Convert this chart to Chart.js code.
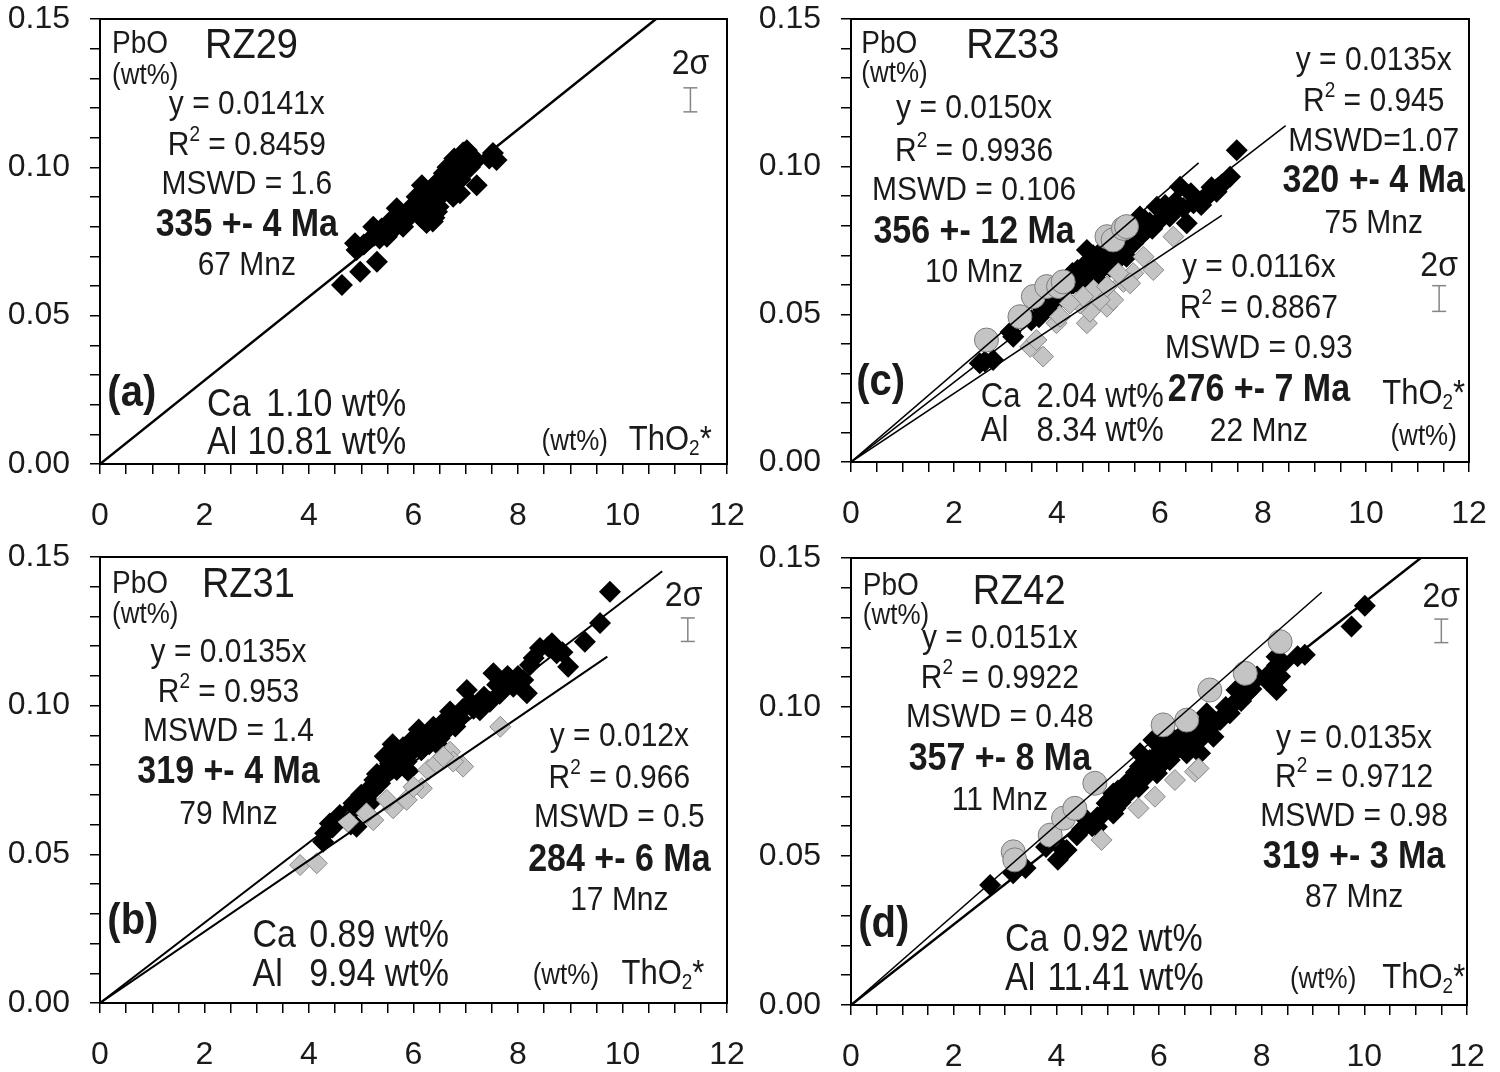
<!DOCTYPE html>
<html>
<head>
<meta charset="utf-8">
<script src="https://cdn.jsdelivr.net/npm/chart.js@4.4.1/dist/chart.umd.min.js"></script>
<style>
  html, body { margin: 0; padding: 0; background: #fff; }
  #wrap { position: relative; width: 1500px; height: 1072px; }
  canvas { position: absolute; }
</style>
</head>
<body>
<div id="wrap">
  <canvas id="panelA" width="750" height="536" style="left:0;top:0"></canvas>
  <canvas id="panelC" width="750" height="536" style="left:750px;top:0"></canvas>
  <canvas id="panelB" width="750" height="536" style="left:0;top:536px"></canvas>
  <canvas id="panelD" width="750" height="536" style="left:750px;top:536px"></canvas>
</div>
<script>
//.. ThO2* (x, wt%) and PbO (y, wt%)

//.. (a) RZ29
const rz29Mnz = [[4.63,0.0603],[4.98,0.0648],[5.30,0.0682],[4.88,0.0744],[4.91,0.0721],[5.23,0.0800],[5.39,0.0794],
  [5.49,0.0766],[5.68,0.0862],[5.80,0.0800],[5.55,0.0817],[5.90,0.0830],[6.12,0.0846],[6.16,0.0940],[6.25,0.0812],
  [6.37,0.0817],[6.44,0.0901],[6.32,0.0924],[6.51,0.0957],[6.64,0.0924],[6.73,0.0980],[6.89,0.1002],[7.02,0.1058],
  [7.04,0.1042],[7.14,0.1014],[7.21,0.0940],[6.89,0.0913],[7.52,0.1048],[7.59,0.1025],[6.76,0.0901],[6.48,0.0867],
  [6.06,0.0901],[6.00,0.0873],[5.35,0.0760],[5.60,0.0790],[5.75,0.0830],[6.20,0.0880],[6.30,0.0860],[6.40,0.0940],
  [6.55,0.0920],[6.60,0.0960],[6.70,0.0940],[6.80,0.0970],[6.85,0.1010],[6.95,0.0990],[7.00,0.1020],[6.95,0.1050],
  [7.08,0.1000],[6.65,0.1000],[6.50,0.0900],[6.25,0.0900],[6.35,0.0880],[6.45,0.0850],[6.15,0.0830],[6.10,0.0880],
  [5.95,0.0860],[5.65,0.0800],[5.45,0.0780],[5.25,0.0770],[6.58,0.0980],[6.78,0.1030],[7.10,0.1040],[6.90,0.0960],
  [6.20,0.0920],[6.40,0.0830],[5.05,0.0740],[7.45,0.1030]];
const rz29Fit = [[0, 0], [10.64, 0.15]];
const rz29Sigma = [[11.30, 0.1187], [11.30, 0.1268]];

//.. (b) RZ31
const rz31Mnz = [[9.76,0.1383],[9.57,0.1278],[9.28,0.1215],[8.96,0.1131],[8.58,0.1198],[8.42,0.1194],[8.74,0.1176],
  [8.23,0.1137],[8.10,0.1086],[7.53,0.1109],[7.72,0.1080],[7.91,0.1064],[8.17,0.1042],[7.02,0.1053],[7.46,0.1013],
  [7.27,0.0985],[6.70,0.0980],[6.89,0.0957],[6.38,0.0929],[6.25,0.0896],[6.06,0.0885],[5.74,0.0840],[5.55,0.0806],
  [5.49,0.0772],[5.36,0.0739],[5.10,0.0705],[4.85,0.0672],[4.75,0.0643],[4.40,0.0604],[4.31,0.0571],[4.27,0.0542],
  [5.87,0.0812],[6.44,0.0873],[6.57,0.0907],[6.00,0.0851],[5.68,0.0784],[5.23,0.0716],[4.98,0.0683],[5.17,0.0673],
  [4.91,0.0593],[4.59,0.0632],[7.80,0.1100],[7.65,0.1040],[8.00,0.1100],[8.30,0.1160],[8.65,0.1210],[8.85,0.1180],
  [7.35,0.1030],[7.15,0.0990],[6.95,0.0990],[6.80,0.0930],[6.60,0.0950],[6.50,0.0890],[6.30,0.0870],[6.15,0.0850],
  [6.10,0.0920],[5.95,0.0880],[5.80,0.0860],[5.65,0.0820],[5.60,0.0870],[5.50,0.0790],[5.45,0.0830],[5.30,0.0770],
  [5.25,0.0750],[5.15,0.0720],[5.00,0.0700],[4.90,0.0660],[4.70,0.0620],[4.45,0.0590],[5.70,0.0800],[5.85,0.0830],
  [6.20,0.0860],[6.35,0.0900],[6.75,0.0960],[7.10,0.1010],[7.60,0.1070],[5.90,0.0780],[5.05,0.0670],[4.80,0.0600]];
const rz31Young = [[3.83,0.0464],[4.15,0.0470],[4.75,0.0610],[5.23,0.0615],[5.61,0.0655],[5.87,0.0683],[6.16,0.0722],
  [6.28,0.0784],[6.70,0.0845],[6.95,0.0795],[6.76,0.0812],[7.66,0.0929],[6.44,0.0806],[5.49,0.0683],[5.10,0.0638],
  [6.00,0.0727],[6.57,0.0828]];
const rz31Fit = [[0, 0], [10.76, 0.1452]];
const rz31FitYoung = [[0, 0], [9.71, 0.1165]];
const rz31Sigma = [[11.25, 0.1216], [11.25, 0.1295]];

//.. (c) RZ33
const rz33Old = [[2.63,0.0413],[3.28,0.0492],[3.54,0.0560],[3.80,0.0594],[4.03,0.0594],[4.12,0.0610],[4.97,0.0763],
  [5.09,0.0752],[5.29,0.0791],[5.35,0.0797]];
const rz33Mnz = [[7.49,0.1056],[7.36,0.0966],[7.10,0.0915],[6.91,0.0898],[6.65,0.0876],[6.52,0.0808],[6.39,0.0932],
  [6.06,0.0853],[5.94,0.0864],[6.19,0.0831],[5.74,0.0786],[5.61,0.0831],[5.48,0.0740],[4.90,0.0695],[4.71,0.0673],
  [4.58,0.0650],[4.45,0.0627],[4.77,0.0616],[4.06,0.0571],[3.86,0.0537],[3.73,0.0515],[3.15,0.0424],[2.50,0.0334],
  [2.76,0.0345],[5.22,0.0718],[5.03,0.0661],[4.32,0.0605],[4.58,0.0718],[5.35,0.0695],[2.60,0.0340],[3.65,0.0490],
  [3.95,0.0550],[4.15,0.0580],[4.25,0.0600],[4.35,0.0630],[4.40,0.0650],[4.50,0.0660],[4.55,0.0620],[4.62,0.0680],
  [4.68,0.0640],[4.80,0.0680],[4.85,0.0650],[4.95,0.0700],[5.00,0.0680],[5.10,0.0700],[5.15,0.0680],[5.30,0.0720],
  [5.40,0.0750],[5.50,0.0770],[5.55,0.0800],[5.65,0.0770],[5.80,0.0810],[5.85,0.0790],[6.00,0.0820],[6.10,0.0870],
  [6.25,0.0850],[6.30,0.0880],[6.45,0.0860],[6.60,0.0910],[6.80,0.0870],[7.00,0.0930],[7.20,0.0940],[3.50,0.0480],
  [3.80,0.0520],[4.10,0.0560],[4.20,0.0620],[4.45,0.0600],[4.70,0.0700],[4.90,0.0720],[5.20,0.0690],[5.45,0.0780],
  [5.70,0.0820],[3.10,0.0440],[4.00,0.0600],[4.30,0.0640]];
const rz33Young = [[3.73,0.0357],[3.48,0.0390],[3.60,0.0413],[3.99,0.0470],[4.58,0.0470],[4.64,0.0509],[4.97,0.0526],
  [5.09,0.0549],[4.83,0.0549],[5.29,0.0610],[5.48,0.0639],[5.87,0.0650],[5.68,0.0695],[6.26,0.0763],[4.45,0.0537],
  [4.71,0.0582],[4.97,0.0594],[5.19,0.0639],[4.06,0.0492],[5.42,0.0605],[4.51,0.0560],[4.25,0.0537]];
const rz33FitOld = [[0, 0], [6.75, 0.1013]];
const rz33Fit = [[0, 0], [8.44, 0.1139]];
const rz33FitYoung = [[0, 0], [7.20, 0.0835]];
const rz33Sigma = [[11.42, 0.0510], [11.42, 0.0597]];

//.. (d) RZ42
const rz42Old = [[3.16,0.0514],[3.19,0.0487],[3.88,0.0570],[4.14,0.0627],[4.36,0.0660],[4.75,0.0744],[6.08,0.0940],
  [6.54,0.0956],[6.99,0.1057],[7.68,0.1113],[8.36,0.1219]];
const rz42Mnz = [[10.01,0.1340],[9.75,0.1270],[8.84,0.1175],[8.36,0.1102],[8.29,0.1057],[8.42,0.1147],[8.29,0.1169],
  [7.71,0.1046],[7.51,0.1057],[7.38,0.0979],[7.19,0.0956],[7.06,0.0900],[6.80,0.0934],[6.67,0.0889],[6.41,0.0900],
  [6.54,0.0845],[6.28,0.0856],[6.08,0.0867],[5.82,0.0822],[5.63,0.0800],[5.44,0.0755],[5.30,0.0699],[5.11,0.0710],
  [4.98,0.0677],[5.11,0.0643],[4.79,0.0598],[4.59,0.0621],[4.20,0.0520],[4.01,0.0543],[3.16,0.0442],[2.71,0.0403],
  [5.50,0.0733],[5.96,0.0778],[6.21,0.0822],[5.89,0.0889],[5.63,0.0845],[6.80,0.0845],[6.93,0.0979],[6.73,0.0923],
  [7.91,0.1102],[4.03,0.0487],[3.40,0.0460],[3.80,0.0530],[4.40,0.0570],[4.50,0.0590],[4.70,0.0600],[4.90,0.0640],
  [5.05,0.0690],[5.20,0.0720],[5.35,0.0740],[5.40,0.0710],[5.55,0.0780],[5.70,0.0760],[5.75,0.0800],[5.80,0.0780],
  [5.90,0.0830],[6.00,0.0800],[6.05,0.0850],[6.10,0.0820],[6.15,0.0880],[6.25,0.0840],[6.30,0.0890],[6.35,0.0870],
  [6.45,0.0880],[6.50,0.0910],[6.60,0.0870],[6.70,0.0900],[6.85,0.0900],[6.95,0.0920],[7.10,0.0950],[7.25,0.0970],
  [7.30,0.1000],[7.45,0.1010],[7.60,0.1020],[7.80,0.1060],[8.10,0.1090],[8.20,0.1120],[8.30,0.1140],[5.25,0.0680],
  [5.60,0.0730],[5.95,0.0810],[6.20,0.0860],[6.55,0.0880],[7.00,0.0960],[4.80,0.0630],[5.15,0.0660],[8.70,0.1170]];
const rz42Young = [[4.88,0.0554],[5.60,0.0660],[5.92,0.0699],[6.31,0.0755],[6.70,0.0783],[6.77,0.0794]];
const rz42FitOld = [[0, 0], [9.17, 0.1385]];
const rz42Fit = [[0, 0], [11.10, 0.15]];
const rz42Sigma = [[11.50, 0.1216], [11.50, 0.1295]];

//.. axis ranges and tick labels
const xRange = [0, 12];
const yRange = [0, 0.15];
const xLabels = [0, 2, 4, 6, 8, 10, 12];
const yLabels = ['0.00', '0.05', '0.10', '0.15'];

const FONT = "'Liberation Sans', Arial, Helvetica, sans-serif";
const INK = '#1a1a1a';
const TALL = 1.12;   //.. the source lettering is a bit taller than wide

//.. text notes per panel (x, y in data units)
const notesA = [
  {t: 'PbO', x: 0.23, y: 0.1384, s: 28},
  {t: '(wt%)', x: 0.23, y: 0.1280, s: 26},
  {t: 'RZ29', x: 2.01, y: 0.1367, s: 38},
  {t: 'y = 0.0141x', x: 2.81, y: 0.1181, s: 30, a: 'center'},
  {t: 'R^2 = 0.8459', x: 2.81, y: 0.1042, s: 30, a: 'center'},
  {t: 'MSWD = 1.6', x: 2.81, y: 0.0909, s: 30, a: 'center'},
  {t: '335 +- 4 Ma', x: 2.81, y: 0.0770, s: 34, a: 'center', b: true},
  {t: '67 Mnz', x: 2.81, y: 0.0637, s: 30, a: 'center'},
  {t: '(a)', x: 0.14, y: 0.0197, s: 40, b: true},
  {t: 'Ca', x: 2.05, y: 0.0162, s: 34},
  {t: '1.10 wt%', x: 5.86, y: 0.0162, s: 34, a: 'right'},
  {t: 'Al', x: 2.05, y: 0.0035, s: 34},
  {t: '10.81 wt%', x: 5.86, y: 0.0035, s: 34, a: 'right'},
  {t: '(wt%)', x: 8.45, y: 0.0046, s: 26},
  {t: 'ThO_2*', x: 10.12, y: 0.0046, s: 31},
  {t: '2σ', x: 11.30, y: 0.1315, s: 32, a: 'center'}
];
const notesB = [
  {t: 'PbO', x: 0.23, y: 0.1380, s: 28},
  {t: '(wt%)', x: 0.23, y: 0.1278, s: 26},
  {t: 'RZ31', x: 1.95, y: 0.1364, s: 38},
  {t: 'y = 0.0135x', x: 2.46, y: 0.1148, s: 30, a: 'center'},
  {t: 'R^2 = 0.953', x: 2.46, y: 0.1011, s: 30, a: 'center'},
  {t: 'MSWD = 1.4', x: 2.46, y: 0.0881, s: 30, a: 'center'},
  {t: '319 +- 4 Ma', x: 2.46, y: 0.0739, s: 34, a: 'center', b: true},
  {t: '79 Mnz', x: 2.46, y: 0.0602, s: 30, a: 'center'},
  {t: 'y = 0.012x', x: 9.94, y: 0.0864, s: 30, a: 'center'},
  {t: 'R^2 = 0.966', x: 9.94, y: 0.0722, s: 30, a: 'center'},
  {t: 'MSWD = 0.5', x: 9.94, y: 0.0591, s: 30, a: 'center'},
  {t: '284 +- 6 Ma', x: 9.94, y: 0.0443, s: 34, a: 'center', b: true},
  {t: '17 Mnz', x: 9.94, y: 0.0313, s: 30, a: 'center'},
  {t: '(b)', x: 0.14, y: 0.0233, s: 40, b: true},
  {t: 'Ca', x: 2.92, y: 0.0188, s: 34},
  {t: '0.89 wt%', x: 6.68, y: 0.0188, s: 34, a: 'right'},
  {t: 'Al', x: 2.92, y: 0.0057, s: 34},
  {t: '9.94 wt%', x: 6.68, y: 0.0057, s: 34, a: 'right'},
  {t: '(wt%)', x: 8.28, y: 0.0063, s: 26},
  {t: 'ThO_2*', x: 9.98, y: 0.0063, s: 31},
  {t: '2σ', x: 11.17, y: 0.1335, s: 32, a: 'center'}
];
const notesC = [
  {t: 'PbO', x: 0.20, y: 0.1384, s: 28},
  {t: '(wt%)', x: 0.20, y: 0.1286, s: 26},
  {t: 'RZ33', x: 2.24, y: 0.1367, s: 38},
  {t: 'y = 0.0150x', x: 2.39, y: 0.1164, s: 30, a: 'center'},
  {t: 'R^2 = 0.9936', x: 2.39, y: 0.1019, s: 30, a: 'center'},
  {t: 'MSWD = 0.106', x: 2.39, y: 0.0886, s: 30, a: 'center'},
  {t: '356 +- 12 Ma', x: 2.39, y: 0.0741, s: 34, a: 'center', b: true},
  {t: '10 Mnz', x: 2.39, y: 0.0608, s: 30, a: 'center'},
  {t: 'y = 0.0135x', x: 10.15, y: 0.1326, s: 30, a: 'center'},
  {t: 'R^2 = 0.945', x: 10.15, y: 0.1187, s: 30, a: 'center'},
  {t: 'MSWD=1.07', x: 10.15, y: 0.1054, s: 30, a: 'center'},
  {t: '320 +- 4 Ma', x: 10.15, y: 0.0915, s: 34, a: 'center', b: true},
  {t: '75 Mnz', x: 10.15, y: 0.0776, s: 30, a: 'center'},
  {t: 'y = 0.0116x', x: 7.92, y: 0.0625, s: 30, a: 'center'},
  {t: 'R^2 = 0.8867', x: 7.92, y: 0.0486, s: 30, a: 'center'},
  {t: 'MSWD = 0.93', x: 7.92, y: 0.0353, s: 30, a: 'center'},
  {t: '276 +- 7 Ma', x: 7.92, y: 0.0208, s: 34, a: 'center', b: true},
  {t: '22 Mnz', x: 7.92, y: 0.0070, s: 30, a: 'center'},
  {t: '(c)', x: 0.10, y: 0.0226, s: 40, b: true},
  {t: 'Ca', x: 2.52, y: 0.0185, s: 31},
  {t: '2.04 wt%', x: 3.60, y: 0.0185, s: 31},
  {t: 'Al', x: 2.52, y: 0.0070, s: 31},
  {t: '8.34 wt%', x: 3.60, y: 0.0070, s: 31},
  {t: 'ThO_2*', x: 11.12, y: 0.0197, s: 31, a: 'center'},
  {t: '(wt%)', x: 11.12, y: 0.0058, s: 26, a: 'center'},
  {t: '2σ', x: 11.42, y: 0.0631, s: 32, a: 'center'}
];
const notesD = [
  {t: 'PbO', x: 0.23, y: 0.1375, s: 28},
  {t: '(wt%)', x: 0.23, y: 0.1278, s: 26},
  {t: 'RZ42', x: 2.37, y: 0.1347, s: 38},
  {t: 'y = 0.0151x', x: 2.90, y: 0.1199, s: 30, a: 'center'},
  {t: 'R^2 = 0.9922', x: 2.90, y: 0.1063, s: 30, a: 'center'},
  {t: 'MSWD = 0.48', x: 2.90, y: 0.0932, s: 30, a: 'center'},
  {t: '357 +- 8 Ma', x: 2.90, y: 0.0790, s: 34, a: 'center', b: true},
  {t: '11 Mnz', x: 2.90, y: 0.0653, s: 30, a: 'center'},
  {t: 'y = 0.0135x', x: 9.80, y: 0.0864, s: 30, a: 'center'},
  {t: 'R^2 = 0.9712', x: 9.80, y: 0.0733, s: 30, a: 'center'},
  {t: 'MSWD = 0.98', x: 9.80, y: 0.0602, s: 30, a: 'center'},
  {t: '319 +- 3 Ma', x: 9.80, y: 0.0460, s: 34, a: 'center', b: true},
  {t: '87 Mnz', x: 9.80, y: 0.0330, s: 30, a: 'center'},
  {t: '(d)', x: 0.14, y: 0.0227, s: 40, b: true},
  {t: 'Ca', x: 3.00, y: 0.0182, s: 34},
  {t: '0.92 wt%', x: 6.85, y: 0.0182, s: 34, a: 'right'},
  {t: 'Al', x: 3.00, y: 0.0051, s: 34},
  {t: '11.41 wt%', x: 6.87, y: 0.0051, s: 34, a: 'right'},
  {t: '(wt%)', x: 8.55, y: 0.0057, s: 26},
  {t: 'ThO_2*', x: 10.35, y: 0.0057, s: 31},
  {t: '2σ', x: 11.50, y: 0.1335, s: 32, a: 'center'}
];


//.. dataset helpers
function pts(arr) {
  return arr.map(function (p) { return {x: p[0], y: p[1]}; });
}
function fitLine(arr, w) {
  return {data: pts(arr), showLine: true, borderColor: '#000', borderWidth: w, pointRadius: 0, order: 0};
}
function sigmaBar(arr) {
  return {data: pts(arr), showLine: true, borderColor: '#858585', borderWidth: 1.5, pointStyle: 'line',
    pointRadius: 7, pointBorderColor: '#858585', pointBorderWidth: 1.5, order: 0};
}
function blackDiamonds(arr) {
  return {data: pts(arr), pointStyle: 'rectRot', pointRadius: 11, backgroundColor: '#000',
    borderColor: '#000', borderWidth: 0, order: 3};
}
function greyDiamonds(arr) {
  return {data: pts(arr), pointStyle: 'rectRot', pointRadius: 10.5, backgroundColor: '#c4c4c4',
    borderColor: '#8a8a8a', borderWidth: 1, order: 2};
}
function greyDots(arr) {
  return {data: pts(arr), pointStyle: 'circle', pointRadius: 12, backgroundColor: '#c4c4c4',
    borderColor: '#7d7d7d', borderWidth: 1, order: 1};
}

//.. rich text: ^X superscript, _X subscript
function drawRich(ctx, text, x, y, size, bold, align, color) {
  const segs = [];
  for (let i = 0; i < text.length; i++) {
    const c = text[i];
    if ((c === '^' || c === '_') && i + 1 < text.length) {
      segs.push({s: text[i + 1], k: c});
      i++;
    } else if (segs.length && segs[segs.length - 1].k === '') {
      segs[segs.length - 1].s += c;
    } else {
      segs.push({s: c, k: ''});
    }
  }
  const fontOf = function (k) {
    return (bold ? 'bold ' : '') + Math.round(k ? size * 0.62 : size) + 'px ' + FONT;
  };
  let w = 0;
  segs.forEach(function (g) { ctx.font = fontOf(g.k); g.w = ctx.measureText(g.s).width; w += g.w; });
  let cx = align === 'center' ? -w / 2 : (align === 'right' ? -w : 0);
  ctx.save();
  ctx.translate(x, y);
  ctx.scale(1, TALL);
  ctx.fillStyle = color;
  ctx.textAlign = 'left';
  ctx.textBaseline = 'alphabetic';
  segs.forEach(function (g) {
    ctx.font = fontOf(g.k);
    const dy = g.k === '^' ? -size * 0.42 : (g.k === '_' ? size * 0.14 : 0);
    ctx.fillText(g.s, cx, dy);
    cx += g.w;
  });
  ctx.restore();
}

//.. one panel = one chart
function makePanel(id, area, datasets, notes) {
  const canvas = document.getElementById(id);
  const W = canvas.width, H = canvas.height;
  const notesPlugin = {
    id: 'notes',
    afterDatasetsDraw: function (chart) {
      const ctx = chart.ctx, a = chart.chartArea;
      const sx = chart.scales.x, sy = chart.scales.y;
      ctx.save();
      ctx.strokeStyle = '#000';
      ctx.lineWidth = 2;
      ctx.strokeRect(a.left, a.top, a.right - a.left, a.bottom - a.top);
      notes.forEach(function (n) {
        drawRich(ctx, n.t, sx.getPixelForValue(n.x), sy.getPixelForValue(n.y), n.s, !!n.b, n.a || 'left', INK);
      });
      ctx.restore();
    }
  };
  return new Chart(canvas.getContext('2d'), {
    type: 'scatter',
    data: {datasets: datasets},
    options: {
      responsive: false,
      animation: false,
      devicePixelRatio: 1,
      events: [],
      layout: {padding: {left: 0, top: area.top, right: W - area.right, bottom: 0}},
      plugins: {legend: {display: false}, tooltip: {enabled: false}},
      scales: {
        x: {
          type: 'linear', min: xRange[0], max: xRange[1],
          afterFit: function (s) {
            s.height = H - area.bottom;
            s.paddingLeft = 0; s.paddingRight = 0;
          },
          border: {display: true, color: '#000', width: 2},
          grid: {drawOnChartArea: false, drawTicks: true, tickLength: 10, color: '#000', lineWidth: 1.5},
          ticks: {
            stepSize: 0.5, autoSkip: false, maxRotation: 0, padding: 23, color: INK,
            font: {family: FONT, size: 32},
            callback: function (v) { return xLabels.indexOf(v) >= 0 ? String(v) : ''; }
          }
        },
        y: {
          type: 'linear', min: yRange[0], max: yRange[1],
          afterFit: function (s) {
            s.width = area.left;
            s.paddingTop = 0; s.paddingBottom = 0;
          },
          border: {display: true, color: '#000', width: 2},
          grid: {drawOnChartArea: false, drawTicks: true, tickLength: 10, color: '#000', lineWidth: 1.5},
          ticks: {
            stepSize: 0.01, autoSkip: false, padding: 20, color: INK,
            font: {family: FONT, size: 32},
            callback: function (v) {
              const lbl = v.toFixed(2);
              return yLabels.indexOf(lbl) >= 0 ? lbl : '';
            }
          }
        }
      }
    },
    plugins: [notesPlugin]
  });
}

makePanel('panelA', {left: 100, right: 727, top: 19, bottom: 464}, [
  fitLine(rz29Fit, 2.5),
  sigmaBar(rz29Sigma),
  blackDiamonds(rz29Mnz)
], notesA);

makePanel('panelB', {left: 100, right: 727, top: 21, bottom: 467}, [
  fitLine(rz31Fit, 2),
  fitLine(rz31FitYoung, 2),
  sigmaBar(rz31Sigma),
  greyDiamonds(rz31Young),
  blackDiamonds(rz31Mnz)
], notesB);

makePanel('panelC', {left: 101, right: 719, top: 19, bottom: 462}, [
  fitLine(rz33FitOld, 1.5),
  fitLine(rz33Fit, 1.5),
  fitLine(rz33FitYoung, 1.5),
  sigmaBar(rz33Sigma),
  greyDots(rz33Old),
  greyDiamonds(rz33Young),
  blackDiamonds(rz33Mnz)
], notesC);

makePanel('panelD', {left: 101, right: 717, top: 22, bottom: 469}, [
  fitLine(rz42FitOld, 1.5),
  fitLine(rz42Fit, 2.5),
  sigmaBar(rz42Sigma),
  greyDots(rz42Old),
  greyDiamonds(rz42Young),
  blackDiamonds(rz42Mnz)
], notesD);
</script>
</body>
</html>
